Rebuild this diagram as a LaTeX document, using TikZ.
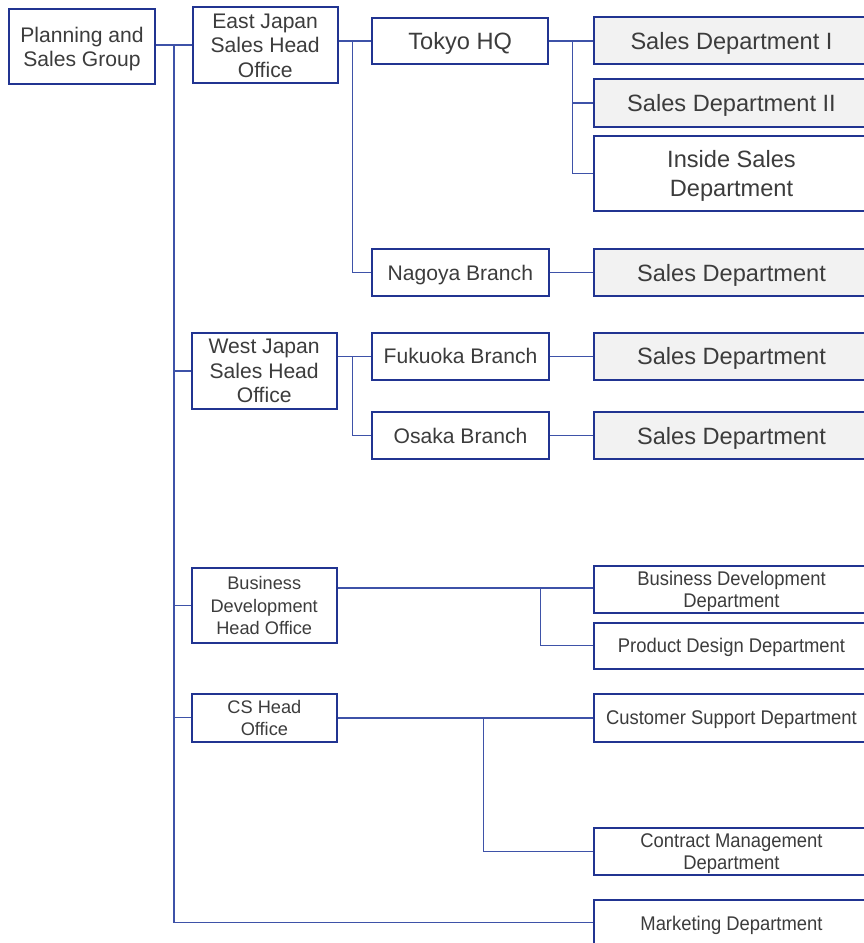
\documentclass[tikz,border=0pt]{standalone}
\usepackage{fontspec}
\setmainfont{Liberation Sans}
\newfontfamily\narrowsans{Liberation Sans}[FakeStretch=0.93]
\definecolor{boxline}{RGB}{33,52,145}
\definecolor{connline}{RGB}{62,82,168}
\definecolor{deptfill}{RGB}{242,242,242}
\definecolor{txt}{RGB}{60,60,60}
\tikzset{
  unit/.style={draw=boxline, line width=1.9pt, fill=white, inner sep=0pt,
    text depth=0pt, align=center, text=txt, anchor=center},
  bigtext/.style={font=\fontsize{23.6}{28.3}\selectfont},
  midtext/.style={font=\fontsize{21.1}{24.5}\selectfont},
  smalltext/.style={font=\fontsize{18.2}{22.4}\selectfont},
  narrowtext/.style={font=\narrowsans\fontsize{19.8}{21.5}\selectfont},
  graydept/.style={fill=deptfill},
  link/.style={draw=connline, line width=1.3pt},
}
\begin{document}
\begin{tikzpicture}[x=1pt, y=-1pt]
\useasboundingbox (0,0) rectangle (864,943);
\clip (0,0) rectangle (864,943);

% top level
\node[unit, midtext, minimum width=146pt, minimum height=75pt] (plan) at (82,46.8) {Planning and\\Sales Group};

% head offices
\node[unit, midtext, minimum width=145pt, minimum height=76pt] (east) at (265.2,45.3) {East Japan\\Sales Head\\Office};
\node[unit, midtext, minimum width=145pt, minimum height=75.4pt] (west) at (264.2,371) {West Japan\\Sales Head\\Office};
\node[unit, smalltext, minimum width=145pt, minimum height=75.6pt] (bizho) at (264.2,605.5) {Business\\Development\\Head Office};
\node[unit, smalltext, minimum width=144.7pt, minimum height=47.7pt] (csho) at (264.4,717.8) {CS Head\\Office};

% branches
\node[unit, bigtext, minimum width=176.3pt, minimum height=46.6pt] (tokyo) at (460.2,41) {Tokyo HQ};
\node[unit, midtext, minimum width=177.3pt, minimum height=46.7pt] (nagoya) at (460.3,272.7) {Nagoya Branch};
\node[unit, midtext, minimum width=177pt, minimum height=47pt] (fukuoka) at (460.5,356.2) {Fukuoka Branch};
\node[unit, midtext, minimum width=177pt, minimum height=47pt] (osaka) at (460.5,435.8) {Osaka Branch};

% departments
\node[unit, bigtext, graydept, minimum width=275pt, minimum height=46.4pt] (sd1) at (731.5,40.5) {Sales Department I};
\node[unit, bigtext, graydept, minimum width=275pt, minimum height=47.4pt] (sd2) at (731.5,103) {Sales Department II};
\node[unit, bigtext, minimum width=275pt, minimum height=75.6pt] (inside) at (731.5,173.5) {Inside Sales\\Department};
\node[unit, bigtext, graydept, minimum width=275pt, minimum height=46.7pt] (sdn) at (731.5,272.7) {Sales Department};
\node[unit, bigtext, graydept, minimum width=275pt, minimum height=47pt] (sdf) at (731.5,356.2) {Sales Department};
\node[unit, bigtext, graydept, minimum width=275pt, minimum height=47pt] (sdo) at (731.5,435.8) {Sales Department};
\node[unit, narrowtext, minimum width=275pt, minimum height=47pt] (bizdept) at (731.5,589.2) {Business Development\\Department};
\node[unit, narrowtext, minimum width=275pt, minimum height=46.3pt] (prod) at (731.5,645.8) {Product Design Department};
\node[unit, narrowtext, minimum width=275pt, minimum height=47.4pt] (cust) at (731.5,718) {Customer Support Department};
\node[unit, narrowtext, minimum width=275pt, minimum height=46.7pt] (contract) at (731.5,851.7) {Contract Management\\Department};
\node[unit, narrowtext, minimum width=275pt, minimum height=47.3pt] (mkt) at (731.5,923.3) {Marketing Department};

% junction points of the connectors
\coordinate (trunk) at (174,45);
\coordinate (trunkend) at (174,922.3);
\coordinate (eastbus) at (352.3,41);
\coordinate (tokyobus) at (572.3,41);
\coordinate (westbus) at (352.3,356.2);
\coordinate (bizbus) at (540.3,588);
\coordinate (csbus) at (483.3,718);

% group trunk
\draw[link] (plan.east |- trunk) -- (east.west |- trunk);
\draw[link] (trunk) -- (trunkend) -- (mkt.west |- trunkend);
\draw[link] (trunk |- west.west) -- (west.west);
\draw[link] (trunk |- bizho.west) -- (bizho.west);
\draw[link] (trunk |- csho.west) -- (csho.west);

% East Japan
\draw[link] (east.east |- eastbus) -- (tokyo.west);
\draw[link] (eastbus) |- (nagoya.west);
\draw[link] (tokyo.east) -- (tokyobus) -- (sd1.west |- tokyobus);
\draw[link] (tokyobus) |- (sd2.west);
\draw[link] (tokyobus) |- (inside.west);
\draw[link] (nagoya.east) -- (sdn.west);

% West Japan
\draw[link] (west.east |- westbus) -- (fukuoka.west);
\draw[link] (westbus) |- (osaka.west);
\draw[link] (fukuoka.east) -- (sdf.west);
\draw[link] (osaka.east) -- (sdo.west);

% Business Development
\draw[link] (bizho.east |- bizbus) -- (bizdept.west |- bizbus);
\draw[link] (bizbus) |- (prod.west);

% CS
\draw[link] (csho.east |- csbus) -- (cust.west);
\draw[link] (csbus) |- (contract.west);
\end{tikzpicture}
\end{document}
